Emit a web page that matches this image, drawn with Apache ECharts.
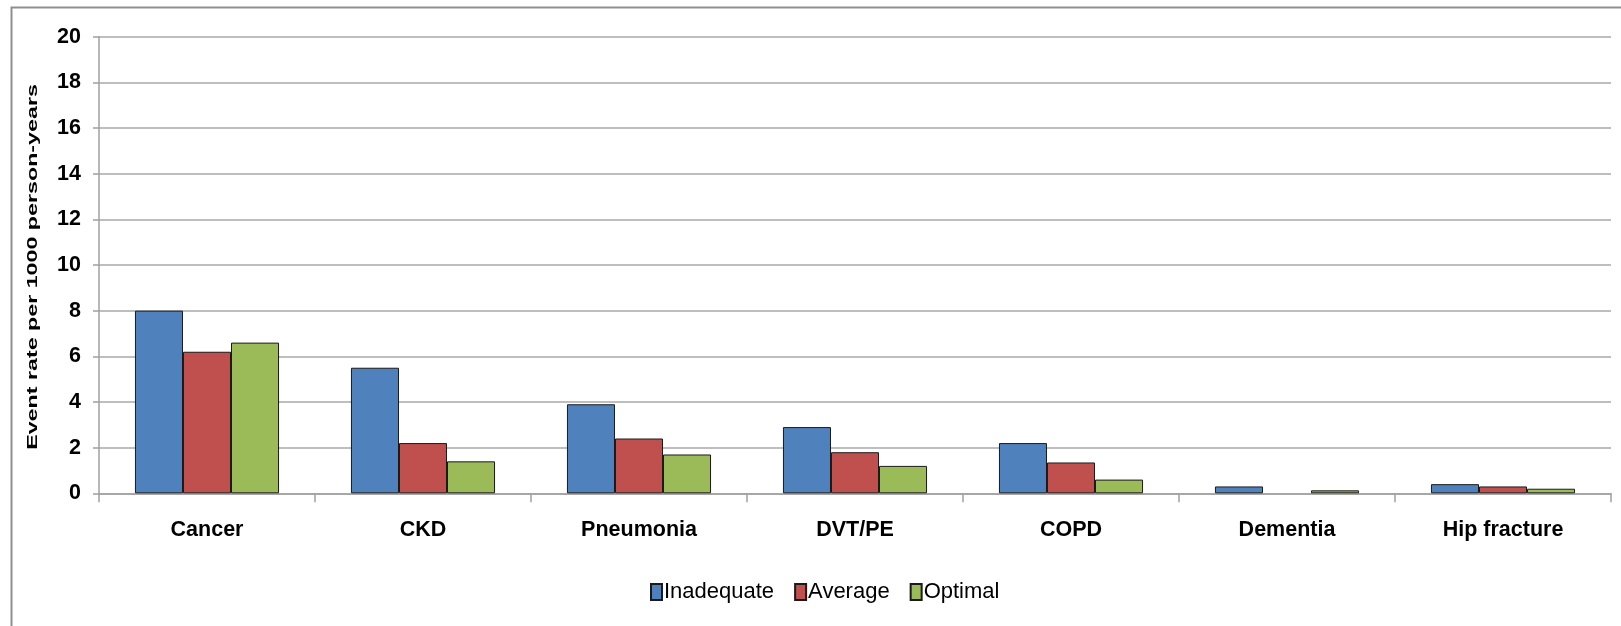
<!DOCTYPE html>
<html>
<head>
<meta charset="utf-8">
<script src="https://cdn.jsdelivr.net/npm/echarts@6/dist/echarts.min.js"></script>
<style>
html,body{margin:0;padding:0;background:#fff;}
#chart{width:1621px;height:626px;}
</style>
</head>
<body>
<div id="chart"></div>
<script>
const categories = ['Cancer', 'CKD', 'Pneumonia', 'DVT/PE', 'COPD', 'Dementia', 'Hip fracture'];
const inadequate = [8.0, 5.5, 3.9, 2.9, 2.2, 0.3, 0.4];
const average = [6.2, 2.2, 2.4, 1.8, 1.35, null, 0.3];
const optimal = [6.6, 1.4, 1.7, 1.2, 0.6, 0.13, 0.2];
const seriesNames = ['Inadequate', 'Average', 'Optimal'];
const yTitle = 'Event rate per 1000 person-years';

const FONT = "'Liberation Sans', Arial, sans-serif";
const chart = echarts.init(document.getElementById('chart'));
const barStyle = (c) => ({ color: c, borderColor: '#1a1a1a', borderWidth: 1 });
chart.setOption({
  animation: false,
  backgroundColor: '#fff',
  graphic: [
    { type: 'rect', left: 9, top: 5, shape: { width: 1700, height: 700 }, style: { fill: 'none', stroke: '#8f8f8f', lineWidth: 2 }, silent: true },
    { type: 'text', x: 33, y: 267, rotation: Math.PI / 2, scaleX: 1.55, scaleY: 1,
      style: { text: yTitle, font: "bold 15px 'Liberation Sans', Arial, sans-serif", fill: '#000', align: 'center', verticalAlign: 'middle' } }
  ],
  grid: { left: 99, right: 10, top: 36.7, bottom: 132.7, containLabel: false },
  legend: {
    left: 645, top: 576,
    itemWidth: 11, itemHeight: 16, itemGap: 20,
    icon: 'rect',
    textStyle: { fontFamily: FONT, fontSize: 22, color: '#000', padding: [0, 0, 0, -3] },
    data: seriesNames
  },
  xAxis: {
    type: 'category',
    data: categories,
    axisLine: { lineStyle: { color: '#a0a0a0', width: 1.5 } },
    axisTick: { show: true, length: 9, lineStyle: { color: '#a0a0a0', width: 1.5 } },
    axisLabel: { fontFamily: FONT, fontWeight: 'bold', fontSize: 21.5, color: '#000', margin: 26 }
  },
  yAxis: {
    type: 'value', min: 0, max: 20, interval: 2,
    axisLine: { show: true, lineStyle: { color: '#a0a0a0', width: 1.5 } },
    axisTick: { show: true, length: 6, lineStyle: { color: '#a0a0a0', width: 1.5 } },
    splitLine: { lineStyle: { color: '#a8a8a8', width: 1.5 } },
    axisLabel: { fontFamily: FONT, fontWeight: 'bold', fontSize: 21.5, color: '#000', margin: 18 }
  },
  series: [
    { name: seriesNames[0], type: 'bar', data: inadequate, itemStyle: barStyle('#4F81BD'), barGap: '0%', barCategoryGap: '33.3%' },
    { name: seriesNames[1], type: 'bar', data: average, itemStyle: barStyle('#C0504D'), barGap: '0%', barCategoryGap: '33.3%' },
    { name: seriesNames[2], type: 'bar', data: optimal, itemStyle: barStyle('#9BBB59'), barGap: '0%', barCategoryGap: '33.3%' }
  ]
});
</script>
</body>
</html>
